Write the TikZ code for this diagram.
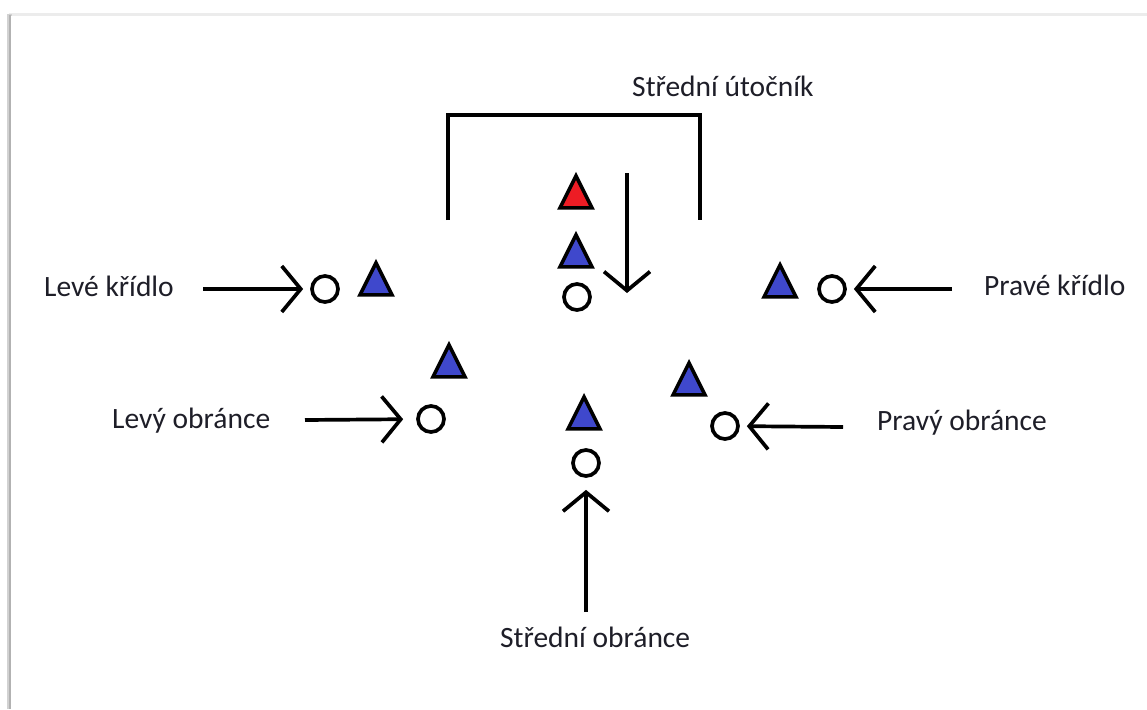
\documentclass[tikz,border=0pt]{standalone}
\usepackage{fontspec}
\setmainfont{Carlito}
\usetikzlibrary{shapes.geometric,arrows.meta}
\definecolor{pblue}{RGB}{63,72,204}
\definecolor{pred}{RGB}{237,28,36}
\definecolor{txt}{RGB}{30,30,40}
\tikzset{
  tri/.style={isosceles triangle, shape border rotate=90, isosceles triangle stretches,
    minimum width=32pt, minimum height=32pt, inner sep=0pt, draw=black, line width=3.5pt, line join=miter},
  ball/.style={circle, draw=black, line width=3.7pt, minimum size=26pt, inner sep=0pt},
  lab/.style={anchor=base west, inner sep=0pt, text=txt, font=\fontsize{29.5}{33}\selectfont},
  move/.style={line width=3.7pt, -{Straight Barb[length=19pt, width=46pt, line width=3.7pt]}},
  goal/.style={line width=4.2pt, line join=miter}
}
\begin{document}
\begin{tikzpicture}[x=1pt,y=-1pt]
\useasboundingbox (0,0) rectangle (1147,709);
% frame with shadow
\fill[gray!15] (9,13) rectangle (1147,16);
\fill[gray!35] (7,14) rectangle (12,709);
\fill[gray!60] (8.5,15) rectangle (10.5,709);
\fill[white] (11,16) rectangle (1147,709);
% goal bracket
\draw[goal] (448,220) -- (448,115) -- (700,115) -- (700,220);
% labels
\node[lab] (lcf) at (632,96) {Střední útočník};
\node[lab] (llw) at (44,296) {Levé křídlo};
\node[lab] (lrw) at (984,295) {Pravé křídlo};
\node[lab] (lld) at (112,428) {Levý obránce};
\node[lab] (lrd) at (877,430) {Pravý obránce};
\node[lab] (lcd) at (500,647) {Střední obránce};
% players
\node[tri, fill=pred] (tred) at (576,198) {};
\node[tri, fill=pblue] (tcf) at (576,257) {};
\node[ball] (bcf) at (577,297) {};
\node[ball] (blw) at (325,289) {};
\node[tri, fill=pblue] (tlw) at (376,285) {};
\node[ball] (brw) at (832,289) {};
\node[tri, fill=pblue] (trw) at (780,287) {};
\node[ball] (bld) at (431,419) {};
\node[tri, fill=pblue] (tld) at (449,367) {};
\node[ball] (brd) at (725,426) {};
\node[tri, fill=pblue] (trd) at (689,385) {};
\node[ball] (bcd) at (586,463) {};
\node[tri, fill=pblue] (tcd) at (584,419) {};
% arrow anchors
\coordinate (alw) at (203,289);
\coordinate (arw) at (952,289);
\coordinate (ald) at (305,420);
\coordinate (ard) at (843,427);
\coordinate (acd) at (586,612);
\coordinate (acf1) at (627,173);
\coordinate (acf2) at (627,293);
% arrows
\draw[move, shorten >=7pt] (alw) -- (blw);
\draw[move, shorten >=7pt] (arw) -- (brw);
\draw[move, shorten >=13pt] (ald) -- (bld);
\draw[move, shorten >=7pt] (ard) -- (brd);
\draw[move, shorten >=12pt] (acd) -- (bcd);
\draw[move] (acf1) -- (acf2);
\end{tikzpicture}
\end{document}
